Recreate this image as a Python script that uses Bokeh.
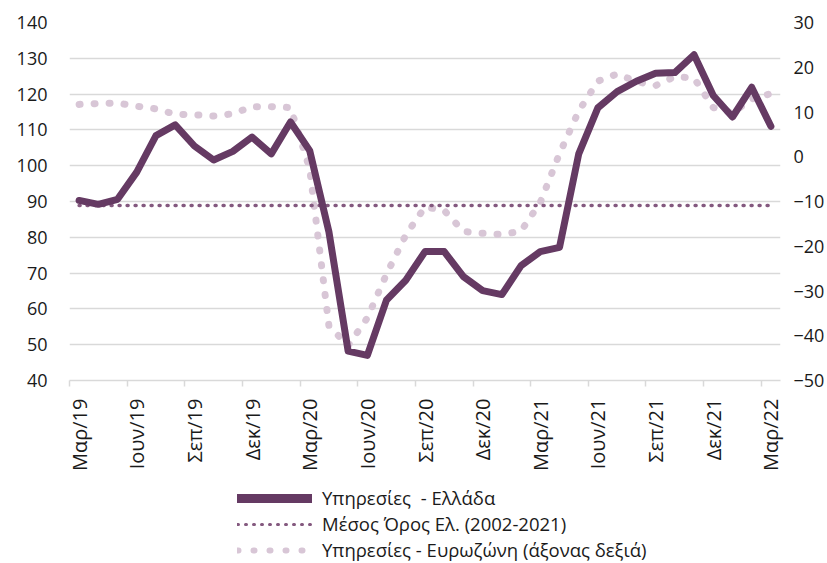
import math
from bokeh.plotting import figure
from bokeh.layouts import column
from bokeh.models import Range1d, LinearAxis, FixedTicker, Legend, LegendItem, Grid
from bokeh.embed import file_html
from bokeh.resources import INLINE

months = ["Μαρ/19", "Απρ/19", "Μαϊ/19", "Ιουν/19", "Ιουλ/19", "Αυγ/19", "Σεπ/19", "Οκτ/19", "Νοε/19",
          "Δεκ/19", "Ιαν/20", "Φεβ/20", "Μαρ/20", "Απρ/20", "Μαϊ/20", "Ιουν/20", "Ιουλ/20", "Αυγ/20",
          "Σεπ/20", "Οκτ/20", "Νοε/20", "Δεκ/20", "Ιαν/21", "Φεβ/21", "Μαρ/21", "Απρ/21", "Μαϊ/21",
          "Ιουν/21", "Ιουλ/21", "Αυγ/21", "Σεπ/21", "Οκτ/21", "Νοε/21", "Δεκ/21", "Ιαν/22", "Φεβ/22",
          "Μαρ/22"]

greece = [90.3, 89.2, 90.6, 98.2, 108.4, 111.4, 105.5, 101.6, 104.0, 108.0, 103.3, 112.2,
          104.2, 81.5, 48.2, 47.0, 62.5, 68.0, 76.0, 76.0, 69.0, 65.1, 64.0, 72.1,
          76.0, 77.2, 103.3, 116.2, 120.7, 123.6, 125.8, 126.0, 131.0, 119.6, 113.6, 121.9,
          111.0]

eurozone = [11.7, 11.9, 12.0, 11.3, 10.7, 9.5, 9.4, 9.1, 9.6, 11.2, 11.2, 11.0,
            -2.7, -37.8, -42.2, -36.0, -26.2, -17.5, -11.2, -12.0, -16.7, -17.1, -17.4, -16.6,
            -10.2, 0.7, 10.2, 16.9, 18.5, 16.8, 15.9, 17.9, 17.6, 11.0, 9.8, 12.9,
            14.1]

greece_avg = 88.9

left_ticks = [40, 50, 60, 70, 80, 90, 100, 110, 120, 130, 140]
right_ticks = [-50, -40, -30, -20, -10, 0, 10, 20, 30]

label_greece = "Υπηρεσίες  - Ελλάδα"
label_avg = "Μέσος Όρος Ελ. (2002-2021)"
label_ez = "Υπηρεσίες - Ευρωζώνη (άξονας δεξιά)"

FONT = "Open Sans"
FS = "18px"
TXT = "#1a1a1a"
GRID = "#d9d9d9"
C_GR = "#653a63"
C_AVG = "#84597f"
C_EZ = "#d8c6d6"

x = list(range(len(months)))

p = figure(frame_width=711, frame_height=358, output_backend="svg", toolbar_location=None,
           x_range=Range1d(-0.5, len(months) - 0.5),
           y_range=Range1d(left_ticks[0], left_ticks[-1]),
           min_border_left=69, min_border_right=47, min_border_top=22, min_border_bottom=92,
           x_axis_location=None, y_axis_location=None)
p.outline_line_color = None
p.background_fill_color = "white"
p.border_fill_color = "white"
for gr in list(p.grid):
    gr.visible = False
p.extra_y_ranges = {"ez": Range1d(right_ticks[0], right_ticks[-1])}

# left axis
yl = LinearAxis(ticker=FixedTicker(ticks=left_ticks))
yl.axis_line_color = None
yl.major_tick_line_color = None
yl.minor_tick_line_color = None
yl.major_label_text_font = FONT
yl.major_label_text_font_size = FS
yl.major_label_text_color = TXT
yl.major_label_standoff = 16
p.add_layout(yl, "left")

# right axis
yr = LinearAxis(y_range_name="ez", ticker=FixedTicker(ticks=right_ticks))
yr.axis_line_color = None
yr.major_tick_line_color = None
yr.minor_tick_line_color = None
yr.major_label_text_font = FONT
yr.major_label_text_font_size = FS
yr.major_label_text_color = TXT
yr.major_label_standoff = 7
p.add_layout(yr, "right")

# bottom axis
label_idx = x[::3]
xa = LinearAxis(ticker=FixedTicker(ticks=label_idx, minor_ticks=[i - 0.5 for i in label_idx]))
xa.major_label_overrides = {i: months[i] for i in label_idx}
xa.major_label_orientation = math.pi / 2
xa.axis_line_color = GRID
xa.axis_line_width = 1.5
xa.major_tick_line_color = None
xa.major_tick_out = 0
xa.major_tick_in = 0
xa.minor_tick_line_color = GRID
xa.minor_tick_line_width = 1.5
xa.minor_tick_out = 6
xa.minor_tick_in = 0
xa.major_label_text_font = FONT
xa.major_label_text_font_size = "20px"
xa.major_label_text_color = TXT
xa.major_label_standoff = 12
p.add_layout(xa, "below")

# horizontal grid
g = Grid(dimension=1, ticker=FixedTicker(ticks=left_ticks))
g.grid_line_color = GRID
g.grid_line_width = 1.5
p.add_layout(g)

p.line(x, eurozone, y_range_name="ez", line_color=C_EZ, line_width=7,
       line_dash="1 14", line_cap="round")
p.line(x, [greece_avg] * len(x), line_color=C_AVG, line_width=3.5,
       line_dash="1 7", line_cap="round")
p.line(x, greece, line_color=C_GR, line_width=7, line_join="round", line_cap="round")

# legend strip under the chart (proxy renderers hold a single point, so they draw nothing)
q = figure(width=827, height=91, output_backend="svg", toolbar_location=None,
           x_range=Range1d(0, 1), y_range=Range1d(0, 1), min_border=0,
           x_axis_location=None, y_axis_location=None)
q.outline_line_color = None
q.border_fill_color = "white"
q.background_fill_color = "white"
for gr in list(q.grid):
    gr.visible = False
lg_gr = q.line(x[:1], greece[:1], line_color=C_GR, line_width=9, line_cap="round")
lg_avg = q.line(x[:1], greece[:1], line_color=C_AVG, line_width=3, line_dash="1 7", line_cap="round")
lg_ez = q.line(x[:1], greece[:1], line_color=C_EZ, line_width=6, line_dash="1 15", line_cap="round")

legend = Legend(items=[LegendItem(label=label_greece, renderers=[lg_gr]),
                       LegendItem(label=label_avg, renderers=[lg_avg]),
                       LegendItem(label=label_ez, renderers=[lg_ez])],
                location=(168, 2), orientation="vertical")
legend.label_text_font = FONT
legend.label_text_font_size = "18.5px"
legend.label_text_color = TXT
legend.glyph_width = 75
legend.glyph_height = 20
legend.label_height = 24
legend.label_standoff = 10
legend.spacing = 1
legend.padding = 0
legend.margin = 0
legend.border_line_color = None
legend.background_fill_alpha = 0
q.add_layout(legend, "center")

layout = column(p, q, spacing=0)
open("out.html", "w").write(file_html(layout, INLINE))
